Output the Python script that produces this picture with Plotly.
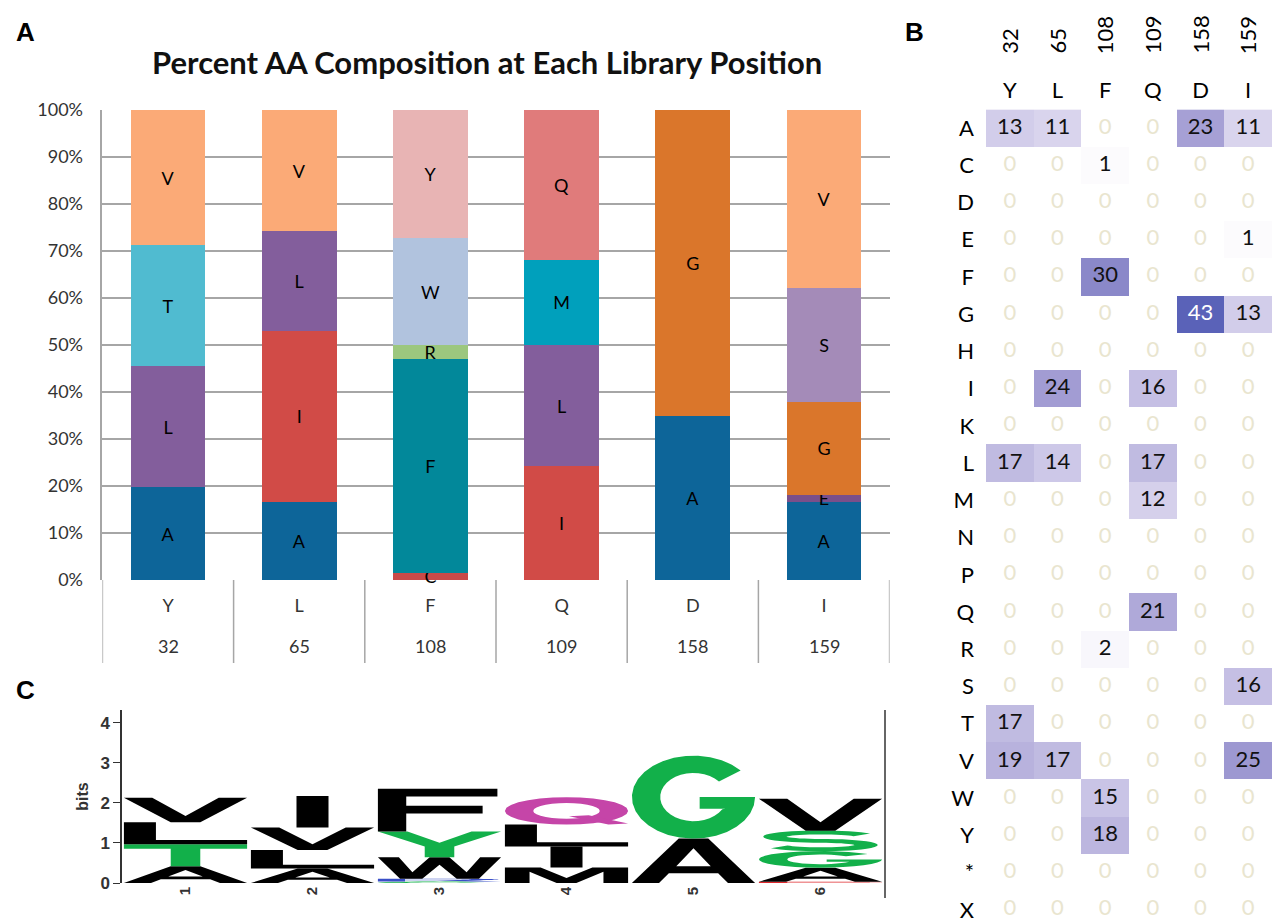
import math
import plotly.graph_objects as go

# ---------------- data ----------------
positions = ["32", "65", "108", "109", "158", "159"]
wild_type = ["Y", "L", "F", "Q", "D", "I"]
aa_rows = ["A", "C", "D", "E", "F", "G", "H", "I", "K", "L", "M",
           "N", "P", "Q", "R", "S", "T", "V", "W", "Y", "*", "X"]
#             A  C  D  E  F   G  H  I   K  L   M   N  P  Q   R  S   T   V   W   Y  *  X
counts_32  = [13, 0, 0, 0, 0,  0, 0, 0,  0, 17, 0,  0, 0, 0,  0, 0,  17, 19, 0,  0, 0, 0]
counts_65  = [11, 0, 0, 0, 0,  0, 0, 24, 0, 14, 0,  0, 0, 0,  0, 0,  0,  17, 0,  0, 0, 0]
counts_108 = [0,  1, 0, 0, 30, 0, 0, 0,  0, 0,  0,  0, 0, 0,  2, 0,  0,  0,  15, 18, 0, 0]
counts_109 = [0,  0, 0, 0, 0,  0, 0, 16, 0, 17, 12, 0, 0, 21, 0, 0,  0,  0,  0,  0, 0, 0]
counts_158 = [23, 0, 0, 0, 0,  43, 0, 0, 0, 0,  0,  0, 0, 0,  0, 0,  0,  0,  0,  0, 0, 0]
counts_159 = [11, 0, 0, 1, 0,  13, 0, 0, 0, 0,  0,  0, 0, 0,  0, 16, 0,  25, 0,  0, 0, 0]
logo_ticks = ["1", "2", "3", "4", "5", "6"]

count_cols = [counts_32, counts_65, counts_108, counts_109, counts_158, counts_159]
totals = [sum(c) for c in count_cols]

# ---------------- styles ----------------
W_PX, H_PX = 1272, 923
def px(x): return x / W_PX
def py(y): return 1 - y / H_PX

bar_colors = {
    "A": "#0d6599", "C": "#c94a48", "E": "#7a4f8a", "F": "#02889a", "G": "#da762b",
    "I": "#d14b47", "L": "#835e9c", "M": "#00a0bc", "Q": "#e07b7b", "R": "#9cc77e",
    "S": "#a48bb8", "T": "#50bbd0", "V": "#fbaa77", "W": "#b1c3de", "Y": "#e8b4b4",
}
logo_colors = {}
for a in "GSTYC": logo_colors[a] = "#12b04a"
for a in "NQ": logo_colors[a] = "#c545a8"
for a in "KRH": logo_colors[a] = "#3a4fc8"
for a in "DE": logo_colors[a] = "#e0282d"
for a in "AVLIPWFM": logo_colors[a] = "#000000"

GRID = "#a6a6a6"
FONT = "Lato"

fig = go.Figure()

# ---------------- Panel A: stacked bars ----------------
for i, aa in enumerate(aa_rows):
    vals = [col[i] for col in count_cols]
    if sum(vals) == 0:
        continue
    pct = [100.0 * v / t for v, t in zip(vals, totals)]
    fig.add_trace(go.Bar(
        x=positions, y=pct, name=aa,
        marker=dict(color=bar_colors[aa], line=dict(width=0)),
        text=[aa if v > 0 else "" for v in vals],
        textposition="inside", insidetextanchor="middle", textangle=0,
        constraintext="none", cliponaxis=False,
        textfont=dict(family=FONT, size=18, color="black"),
        xaxis="x", yaxis="y", showlegend=False, hoverinfo="skip"))

# ---------------- Panel B: heat table ----------------
z = [[col[i] for col in count_cols] for i in range(len(aa_rows))]
fig.add_trace(go.Heatmap(
    x=positions, y=aa_rows, z=z, zmin=0, zmax=43,
    colorscale=[[0, "#ffffff"], [0.3, "#d2cdea"], [0.6, "#9a94cf"], [1, "#5a62b8"]],
    showscale=False, xaxis="x3", yaxis="y3", hoverinfo="skip"))
tx, ty, tt, tc = [], [], [], []
for i, aa in enumerate(aa_rows):
    for j, p in enumerate(positions):
        v = count_cols[j][i]
        tx.append(p); ty.append(aa); tt.append(str(v))
        tc.append("#e9e5cf" if v == 0 else ("#ffffff" if v > 35 else "#111111"))
fig.add_trace(go.Scatter(
    x=tx, y=ty, text=tt, mode="text",
    textfont=dict(family=FONT, size=22, color=tc),
    xaxis="x3", yaxis="y3", showlegend=False, hoverinfo="skip"))

# ---------------- Panel C: sequence logo ----------------
def arc(cx, cy, rx, ry, a0, a1, n=28):
    return [(cx + rx * math.cos(math.radians(a0 + (a1 - a0) * k / n)),
             cy + ry * math.sin(math.radians(a0 + (a1 - a0) * k / n))) for k in range(n + 1)]

def stroke(center, w):
    left, right = [], []
    m = len(center)
    for k in range(m):
        x0, y0 = center[max(k - 1, 0)]
        x1, y1 = center[min(k + 1, m - 1)]
        dx, dy = x1 - x0, y1 - y0
        L = math.hypot(dx, dy) or 1
        nx, ny = -dy / L, dx / L
        cx, cy = center[k]
        left.append((cx + w * nx, cy + w * ny))
        right.append((cx - w * nx, cy - w * ny))
    return left + right[::-1]

GLYPHS = {
    "A": [[[(0, 0), (0.22, 0), (0.3, 0.22), (0.7, 0.22), (0.78, 0), (1, 0), (0.62, 1), (0.38, 1)],
           [(0.36, 0.38), (0.64, 0.38), (0.5, 0.78)]]],
    "C": [[arc(.5, .5, .5, .5, 40, 320) + arc(.5, .5, .27, .29, 320, 40)]],
    "E": [[[(0, 0), (1, 0), (1, 0.18), (0.23, 0.18), (0.23, 0.42), (0.9, 0.42), (0.9, 0.58),
            (0.23, 0.58), (0.23, 0.82), (0.97, 0.82), (0.97, 1), (0, 1)]]],
    "F": [[[(0, 0), (0.23, 0), (0.23, 0.42), (0.85, 0.42), (0.85, 0.6), (0.23, 0.6),
            (0.23, 0.82), (0.97, 0.82), (0.97, 1), (0, 1)]]],
    "G": [[arc(.5, .5, .5, .5, 40, 360) + [(0.55, 0.5), (0.55, 0.36), (0.76, 0.36)]
           + arc(.5, .5, .27, .29, 330, 40)]],
    "I": [[[(0.37, 0), (0.63, 0), (0.63, 1), (0.37, 1)]]],
    "L": [[[(0, 0), (1, 0), (1, 0.2), (0.26, 0.2), (0.26, 1), (0, 1)]]],
    "M": [[[(0, 0), (0.2, 0), (0.2, 0.72), (0.42, 0), (0.58, 0), (0.8, 0.72), (0.8, 0), (1, 0),
            (1, 1), (0.71, 1), (0.5, 0.32), (0.29, 1), (0, 1)]]],
    "Q": [[arc(.5, .5, .5, .5, 0, 360), arc(.5, .5, .27, .29, 0, 360)],
          [[(0.52, 0.3), (0.68, 0.34), (1.0, 0.04), (0.84, 0.0)]]],
    "R": [[[(0, 0), (0.22, 0), (0.22, 0.42), (0.48, 0.42), (0.76, 0), (1, 0), (0.71, 0.46)]
           + arc(0.62, 0.72, 0.36, 0.28, -72, 90) + [(0, 1)],
           [(0.22, 0.58), (0.6, 0.58)] + arc(0.6, 0.71, 0.16, 0.13, -90, 90) + [(0.22, 0.84)]]],
    "S": [[stroke(arc(.5, .705, .37, .205, 25, 270, 30) + arc(.5, .295, .37, .205, 90, -155, 30)[1:], 0.095)]],
    "T": [[[(0, 1), (1, 1), (1, 0.8), (0.62, 0.8), (0.62, 0), (0.38, 0), (0.38, 0.8), (0, 0.8)]]],
    "V": [[[(0, 1), (0.23, 1), (0.5, 0.26), (0.77, 1), (1, 1), (0.62, 0), (0.38, 0)]]],
    "W": [[[(0, 1), (0.17, 1), (0.28, 0.3), (0.42, 1), (0.58, 1), (0.72, 0.3), (0.83, 1), (1, 1),
            (0.82, 0), (0.64, 0), (0.5, 0.65), (0.36, 0), (0.18, 0)]]],
    "Y": [[[(0, 1), (0.24, 1), (0.5, 0.56), (0.76, 1), (1, 1), (0.62, 0.42), (0.62, 0),
            (0.38, 0), (0.38, 0.42)]]],
}

def to_path(rings, x0, w, y0, h):
    parts = []
    for ring in rings:
        pts = [f"{x0 + u * w:.4f},{y0 + v * h:.4f}" for u, v in ring]
        parts.append("M" + " L".join(pts) + " Z")
    return " ".join(parts)

shapes = []
COLW = 0.97
for j, col in enumerate(count_cols):
    n = sum(col)
    freqs = {aa: c / n for aa, c in zip(aa_rows, col) if c > 0}
    H = -sum(f * math.log2(f) for f in freqs.values())
    R = math.log2(20) - H - 19 / (2 * math.log(2) * n)
    order = sorted(freqs.items(), key=lambda kv: (kv[1], -ord(kv[0])))
    y0 = 0.0
    xc = j + 1
    for aa, f in order:
        h = f * R
        for rings in GLYPHS[aa]:
            shapes.append(dict(type="path", xref="x4", yref="y4",
                               path=to_path(rings, xc - COLW / 2, COLW, y0, h),
                               fillcolor=logo_colors[aa], line=dict(width=0), layer="above"))
        y0 += h

fig.add_trace(go.Scatter(x=[1, 6], y=[0, 0], mode="markers", marker=dict(opacity=0),
                         xaxis="x4", yaxis="y4", showlegend=False, hoverinfo="skip"))

# right border line of the logo
shapes.append(dict(type="line", xref="paper", yref="paper",
                   x0=px(885), x1=px(885), y0=py(710), y1=py(898),
                   line=dict(color="#333333", width=1.5)))

# category dividers below panel A
for k in range(len(positions) + 1):
    shapes.append(dict(type="line", xref="x", yref="paper", x0=k - 0.5, x1=k - 0.5,
                       y0=py(580), y1=py(663), line=dict(color=GRID, width=1.5)))

# ---------------- annotations ----------------
ann = []
ann.append(dict(text="<b>Percent AA Composition at Each Library Position</b>",
                x=px(487), y=py(62), xref="paper", yref="paper", showarrow=False,
                xanchor="center", yanchor="middle",
                font=dict(family=FONT, size=31, color="#111111")))
for lab, xx, yy in [("A", 25, 32), ("B", 914, 32), ("C", 25, 690)]:
    ann.append(dict(text=f"<b>{lab}</b>", x=px(xx), y=py(yy), xref="paper", yref="paper",
                    xanchor="center", yanchor="middle",
                    showarrow=False, font=dict(family="Liberation Sans", size=26, color="black")))
for j, p in enumerate(positions):
    ann.append(dict(text=p, x=j, xref="x3", y=py(56), yref="paper", yanchor="bottom",
                    xanchor="center", textangle=-90, showarrow=False,
                    font=dict(family=FONT, size=22, color="black")))
    ann.append(dict(text=p, x=j, xref="x", y=py(646), yref="paper", yanchor="middle",
                    xanchor="center", showarrow=False,
                    font=dict(family=FONT, size=18, color="#333333")))

fig.update_layout(
    width=W_PX, height=H_PX, margin=dict(l=0, r=0, t=0, b=0, autoexpand=False),
    paper_bgcolor="white", plot_bgcolor="white",
    barmode="stack", bargap=0.43,
    uniformtext=dict(minsize=18, mode="show"),
    shapes=shapes, annotations=ann,
    xaxis=dict(type="category", domain=[px(102.4), px(889.6)], anchor="y",
               range=[-0.5, 5.5], tickvals=positions, ticktext=wild_type,
               tickfont=dict(family=FONT, size=18, color="#333333"),
               ticklabelstandoff=13, automargin=False,
               showgrid=False, showline=False, zeroline=False, ticks=""),
    yaxis=dict(domain=[py(580), py(110)], anchor="x", range=[0, 100], dtick=10,
               ticksuffix="%", tickfont=dict(family=FONT, size=18, color="#333333"),
               showgrid=True, gridcolor=GRID, gridwidth=1.5, automargin=False,
               showline=True, linecolor=GRID, linewidth=1.5, zeroline=False,
               ticklabelstandoff=14),
    xaxis3=dict(domain=[px(986), 1.0], anchor="y3", side="top",
                type="category", categoryorder="array", categoryarray=positions,
                range=[-0.5, 5.5], tickvals=positions, ticktext=wild_type,
                tickfont=dict(family=FONT, size=22, color="black"), automargin=False,
                ticklabelstandoff=6,
                showgrid=False, zeroline=False, showline=False, ticks=""),
    yaxis3=dict(domain=[0, py(109.4)], anchor="x3", type="category",
                categoryorder="array", categoryarray=aa_rows, range=[21.35, -0.5],
                tickfont=dict(family=FONT, size=22, color="black"), automargin=False,
                showgrid=False, zeroline=False, showline=False, ticks="",
                ticklabelstandoff=11),
    xaxis4=dict(domain=[px(122), px(884)], anchor="y4", range=[0.5, 6.5],
                tickvals=[1, 2, 3, 4, 5, 6], ticktext=logo_ticks, tickangle=-90,
                tickfont=dict(family="Liberation Sans", size=15, color="#333333", weight="bold"),
                automargin=False,
                showgrid=False, zeroline=False, showline=False, ticks=""),
    yaxis4=dict(domain=[py(883), py(710)], anchor="x4", range=[0, 4.32],
                tickvals=[0, 1, 2, 3, 4], ticks="outside", ticklen=7, tickcolor="#333333",
                tickfont=dict(family="Liberation Sans", size=17, color="#333333", weight="bold"),
                showline=True, linecolor="#333333", linewidth=1.5, automargin=False,
                showgrid=False, zeroline=False,
                title=dict(text="bits", font=dict(family="Liberation Sans", size=16,
                                                  color="#333333", weight="bold"),
                           standoff=8)),
)

fig.write_html("out.html", config={"displayModeBar": False},
               post_script="document.body.style.margin='0px';document.body.style.overflow='hidden';")
